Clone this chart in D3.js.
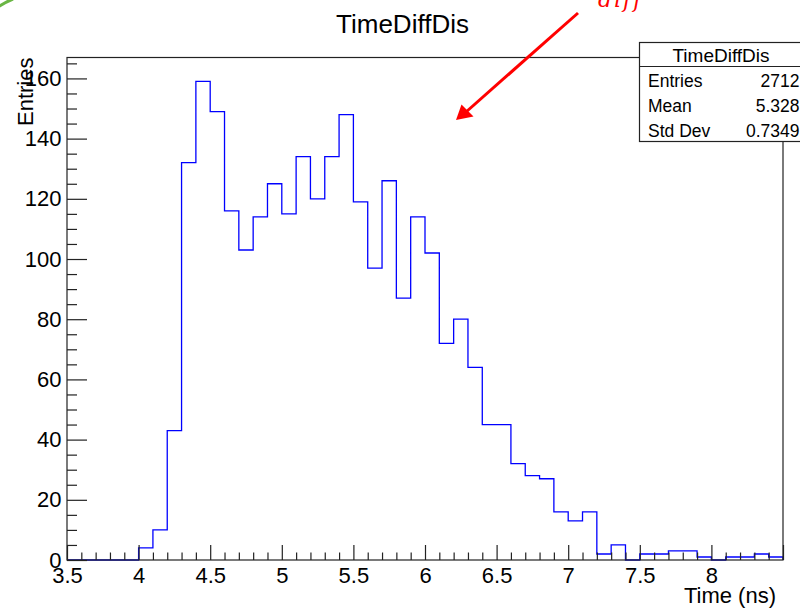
<!DOCTYPE html>
<html>
<head>
<meta charset="utf-8">
<script src="https://cdn.jsdelivr.net/npm/d3@7"></script>
<style>
    body { margin: 0; background: #fff; }
    svg { display: block; font-family: "Liberation Sans", Arial, Helvetica, sans-serif; }
</style>
</head>
<body>
<div id="chart"></div>
<script>

// histogram bins (lower edges, width 0.1 ns) and counts
const binEdges = [3.5, 3.6, 3.7, 3.8, 3.9, 4.0, 4.1, 4.2, 4.3, 4.4, 4.5, 4.6, 4.7, 4.8, 4.9,
    5.0, 5.1, 5.2, 5.3, 5.4, 5.5, 5.6, 5.7, 5.8, 5.9, 6.0, 6.1, 6.2, 6.3, 6.4, 6.5, 6.6, 6.7,
    6.8, 6.9, 7.0, 7.1, 7.2, 7.3, 7.4, 7.5, 7.6, 7.7, 7.8, 7.9, 8.0, 8.1, 8.2, 8.3, 8.4, 8.5];
const binCounts = [0, 0, 0, 0, 0, 4, 10, 43, 132, 159, 149, 116, 103, 114, 125,
    115, 134, 120, 134, 148, 119, 97, 126, 87, 114, 102, 72, 80, 64, 45, 45, 32, 28,
    27, 16, 13, 16, 2, 5, 0, 2, 2, 3, 3, 1, 0, 1, 1, 2, 1];

const xTickLabels = ["3.5", "4", "4.5", "5", "5.5", "6", "6.5", "7", "7.5", "8"];
const yTickLabels = [0, 20, 40, 60, 80, 100, 120, 140, 160];

const statNames = ["Entries", "Mean", "Std Dev"];
const statValues = ["2712", "5.328", "0.7349"];

const W = 800, H = 610;
const frame = {left: 67, top: 57.5, right: 783, bottom: 560};

let svg = d3.select("#chart").append("svg")
    .attr("width", W)
    .attr("height", H);

// scales
let x = d3.scaleLinear()
    .domain([3.5, 8.5])
    .range([frame.left, frame.right]);

let y = d3.scaleLinear()
    .domain([0, 166.95])
    .range([frame.bottom, frame.top]);

// histogram outline as a step path
let bins = binCounts.map((c, i) => ({x0: binEdges[i], x1: binEdges[i + 1], n: c}));
let path = d3.path();
path.moveTo(x(bins[0].x0), y(0));
bins.forEach(b => {
    path.lineTo(x(b.x0), y(b.n));
    path.lineTo(x(b.x1), y(b.n));
});
path.lineTo(x(bins[bins.length - 1].x1), y(0));

svg.append("path")
    .attr("d", path.toString())
    .attr("fill", "none")
    .attr("stroke", "#0000ff")
    .attr("stroke-width", 1.3);

// frame
svg.append("rect")
    .attr("x", frame.left)
    .attr("y", frame.top)
    .attr("width", frame.right - frame.left)
    .attr("height", frame.bottom - frame.top)
    .attr("fill", "none")
    .attr("stroke", "#222")
    .attr("stroke-width", 1.2);

// x axis: major ticks every 0.5, minor every 0.1
let xMajor = xTickLabels.map(d => +d).concat([8.5]);
let xMinor = d3.range(36, 85).map(d => d / 10).filter(d => !xMajor.some(m => Math.abs(m - d) < 1e-6));

let xAxisGroup = svg.append("g")
    .attr("class", "x-axis")
    .attr("transform", `translate(0, ${frame.bottom})`)
    .call(d3.axisBottom(x)
        .tickValues(xMajor)
        .tickSize(-15)
        .tickPadding(7)
        .tickFormat(d => xTickLabels.find(t => +t === d) || ""));

svg.append("g")
    .attr("transform", `translate(0, ${frame.bottom})`)
    .call(d3.axisBottom(x).tickValues(xMinor).tickSize(-7.5).tickFormat(""))
    .select(".domain").remove();

// y axis: major every 20, minor every 5
let yMinor = d3.range(5, 166, 5).filter(d => d % 20 !== 0);

let yAxisGroup = svg.append("g")
    .attr("class", "y-axis")
    .attr("transform", `translate(${frame.left}, 0)`)
    .call(d3.axisLeft(y)
        .tickValues(yTickLabels)
        .tickSize(-20)
        .tickPadding(5.5));

svg.append("g")
    .attr("transform", `translate(${frame.left}, 0)`)
    .call(d3.axisLeft(y).tickValues(yMinor).tickSize(-10).tickFormat(""))
    .select(".domain").remove();

svg.selectAll(".x-axis .domain, .y-axis .domain").remove();
svg.selectAll(".tick line").attr("stroke", "#222").attr("stroke-width", 1.2);
svg.selectAll(".tick text")
    .attr("font-family", "Liberation Sans, Arial, sans-serif")
    .attr("font-size", "22px")
    .attr("fill", "#000");

// axis titles
svg.append("text")
    .attr("transform", `translate(33, ${frame.top}) rotate(-90)`)
    .attr("text-anchor", "end")
    .attr("font-size", "22px")
    .text("Entries");

svg.append("text")
    .attr("x", 776)
    .attr("y", 603)
    .attr("text-anchor", "end")
    .attr("font-size", "22px")
    .text("Time (ns)");

// main title
svg.append("text")
    .attr("x", 402.5)
    .attr("y", 33)
    .attr("text-anchor", "middle")
    .attr("font-size", "26px")
    .text("TimeDiffDis");

// stats box
let stats = svg.append("g").attr("class", "stats");
stats.append("rect")
    .attr("x", 639.5)
    .attr("y", 42.5)
    .attr("width", 200)
    .attr("height", 99)
    .attr("fill", "#fff")
    .attr("stroke", "#222")
    .attr("stroke-width", 1.2);
stats.append("line")
    .attr("x1", 639.5).attr("x2", 840)
    .attr("y1", 66.5).attr("y2", 66.5)
    .attr("stroke", "#222")
    .attr("stroke-width", 1.2);
stats.append("text")
    .attr("x", 721)
    .attr("y", 62)
    .attr("text-anchor", "middle")
    .attr("font-size", "19px")
    .text("TimeDiffDis");
stats.selectAll(".stat-name")
    .data(statNames)
    .join("text")
    .attr("class", "stat-name")
    .attr("x", 648)
    .attr("y", (d, i) => 87 + i * 25)
    .attr("font-size", "17.5px")
    .text(d => d);
stats.selectAll(".stat-value")
    .data(statValues)
    .join("text")
    .attr("class", "stat-value")
    .attr("x", 799.5)
    .attr("y", (d, i) => 87 + i * 25)
    .attr("text-anchor", "end")
    .attr("font-size", "17.5px")
    .text(d => d);

// annotations drawn over the screenshot
svg.append("path")
    .attr("d", "M -6 10 Q 3 3 13 -1")
    .attr("fill", "none")
    .attr("stroke", "#6ab644")
    .attr("stroke-width", 3);

svg.append("text")
    .attr("x", 598)
    .attr("y", 7)
    .attr("font-family", "DejaVu Serif, Liberation Serif, serif")
    .attr("font-style", "italic")
    .attr("font-size", "22px")
    .attr("letter-spacing", "2px")
    .attr("fill", "#ff0000")
    .text("diff");

svg.append("line")
    .attr("x1", 578).attr("y1", 13)
    .attr("x2", 466).attr("y2", 112)
    .attr("stroke", "#ff0000")
    .attr("stroke-width", 3);
svg.append("path")
    .attr("d", "M 456 120 L 461.5 104.5 L 473.5 116.5 Z")
    .attr("fill", "#ff0000");

</script>
</body>
</html>
